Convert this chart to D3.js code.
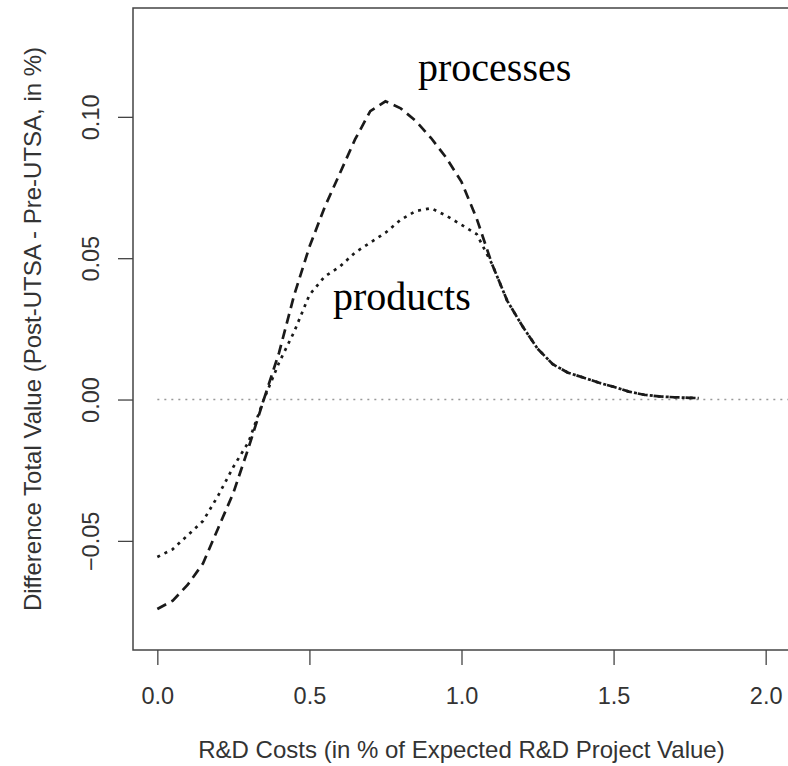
<!DOCTYPE html>
<html>
<head>
<meta charset="utf-8">
<script src="https://cdnjs.cloudflare.com/ajax/libs/d3/7.8.5/d3.min.js"></script>
<style>
  body { margin: 0; background: #fff; }
  svg text { font-family: "Liberation Sans", Arial, sans-serif; fill: #333; }
  .lbl { font-family: "Liberation Serif", "Times New Roman", serif; fill: #000; }
</style>
</head>
<body>
<div id="chart"></div>
<script>
// R&D cost as share of expected project value
var costs = [0, 0.05, 0.1, 0.15, 0.2, 0.25, 0.3, 0.35, 0.4, 0.45, 0.5, 0.55, 0.6, 0.65,
             0.7, 0.75, 0.8, 0.85, 0.9, 0.95, 1.0, 1.05, 1.1, 1.15, 1.2, 1.25, 1.3, 1.35,
             1.4, 1.45, 1.5, 1.55, 1.6, 1.65, 1.7, 1.75, 1.78];

// difference in total value, processes (dashed)
var processes = [-0.0741, -0.0712, -0.0655, -0.058, -0.0455, -0.033, -0.017, 0.0, 0.0165, 0.037,
                 0.054, 0.068, 0.080, 0.092, 0.102, 0.1055, 0.103, 0.0985, 0.0925, 0.0855,
                 0.077, 0.064, 0.048, 0.035, 0.026, 0.018, 0.0125, 0.0095, 0.0078, 0.006,
                 0.0045, 0.0028, 0.0017, 0.0011, 0.0008, 0.0006, 0.0005];

// difference in total value, products (dotted)
var products = [-0.0557, -0.053, -0.048, -0.043, -0.034, -0.0238, -0.015, 0.0, 0.013, 0.024,
                0.037, 0.0435, 0.047, 0.052, 0.0555, 0.059, 0.0636, 0.0667, 0.0677, 0.065,
                0.0618, 0.0585, 0.048, 0.035, 0.026, 0.018, 0.0125, 0.0095, 0.0078, 0.006,
                0.0045, 0.0028, 0.0017, 0.0011, 0.0008, 0.0006, 0.0005];

var xTicks = [0, 0.5, 1.0, 1.5, 2.0];
var yTicks = [-0.05, 0.00, 0.05, 0.10];

var width = 788, height = 766;
var margin = {top: 8, right: -2, bottom: 116, left: 133};

var svg = d3.select("#chart").append("svg")
    .attr("width", width)
    .attr("height", height);

var x = d3.scaleLinear().domain([-0.08, 2.08]).range([margin.left, width - margin.right]);
var y = d3.scaleLinear().domain([-0.0886, 0.1385]).range([height - margin.bottom, margin.top]);

// zero reference line
svg.append("line")
    .attr("x1", x(0)).attr("x2", x(2.08))
    .attr("y1", y(0)).attr("y2", y(0))
    .attr("stroke", "#999")
    .attr("stroke-width", 1.4)
    .attr("stroke-dasharray", "2,5");

var line = d3.line()
    .x(function(d) { return x(d[0]); })
    .y(function(d) { return y(d[1]); });

svg.append("path")
    .datum(d3.zip(costs, processes))
    .attr("d", line)
    .attr("fill", "none")
    .attr("stroke", "#1a1a1a")
    .attr("stroke-width", 2.7)
    .attr("stroke-dasharray", "10,6");

svg.append("path")
    .datum(d3.zip(costs, products))
    .attr("d", line)
    .attr("fill", "none")
    .attr("stroke", "#1a1a1a")
    .attr("stroke-width", 2.7)
    .attr("stroke-dasharray", "3,5");

// plot box (right side falls just outside the frame)
svg.append("rect")
    .attr("x", x(-0.08)).attr("y", y(0.1385))
    .attr("width", x(2.08) - x(-0.08))
    .attr("height", y(-0.0886) - y(0.1385))
    .attr("fill", "none")
    .attr("stroke", "#444")
    .attr("stroke-width", 1.5);

// axes
var xAxis = svg.append("g")
    .attr("transform", "translate(0," + y(-0.0886) + ")")
    .call(d3.axisBottom(x).tickValues(xTicks).tickSize(15).tickPadding(22).tickFormat(d3.format(".1f")));
xAxis.select(".domain").remove();
xAxis.selectAll("line").attr("stroke", "#444").attr("stroke-width", 1.3);
xAxis.selectAll("text").attr("font-size", 23.5).style("font-family", "Liberation Sans, Arial, sans-serif").attr("fill", "#333");

var yAxis = svg.append("g")
    .attr("transform", "translate(" + x(-0.08) + ",0)")
    .call(d3.axisLeft(y).tickValues(yTicks).tickSize(15).tickFormat(d3.format(".2f")));
yAxis.select(".domain").remove();
yAxis.selectAll("line").attr("stroke", "#444").attr("stroke-width", 1.3);
yAxis.selectAll("text")
    .attr("x", 0).attr("y", 0).attr("dy", "0.35em")
    .attr("text-anchor", "middle")
    .attr("transform", "translate(-42,0) rotate(-90)")
    .attr("font-size", 23.5)
    .style("font-family", "Liberation Sans, Arial, sans-serif")
    .attr("fill", "#333");

// axis titles
svg.append("text")
    .attr("x", (x(-0.08) + x(2.08)) / 2)
    .attr("y", 758)
    .attr("text-anchor", "middle")
    .attr("font-size", 24)
    .text("R&D Costs (in % of Expected R&D Project Value)");

svg.append("text")
    .attr("transform", "translate(41," + (y(-0.0886) + y(0.1385)) / 2 + ") rotate(-90)")
    .attr("text-anchor", "middle")
    .attr("font-size", 24)
    .text("Difference Total Value (Post-UTSA - Pre-UTSA, in %)");

// curve labels
svg.append("text").attr("class", "lbl")
    .attr("x", 418).attr("y", 81)
    .attr("font-size", 40)
    .text("processes");

svg.append("text").attr("class", "lbl")
    .attr("x", 333).attr("y", 310)
    .attr("font-size", 40)
    .text("products");
</script>
</body>
</html>
